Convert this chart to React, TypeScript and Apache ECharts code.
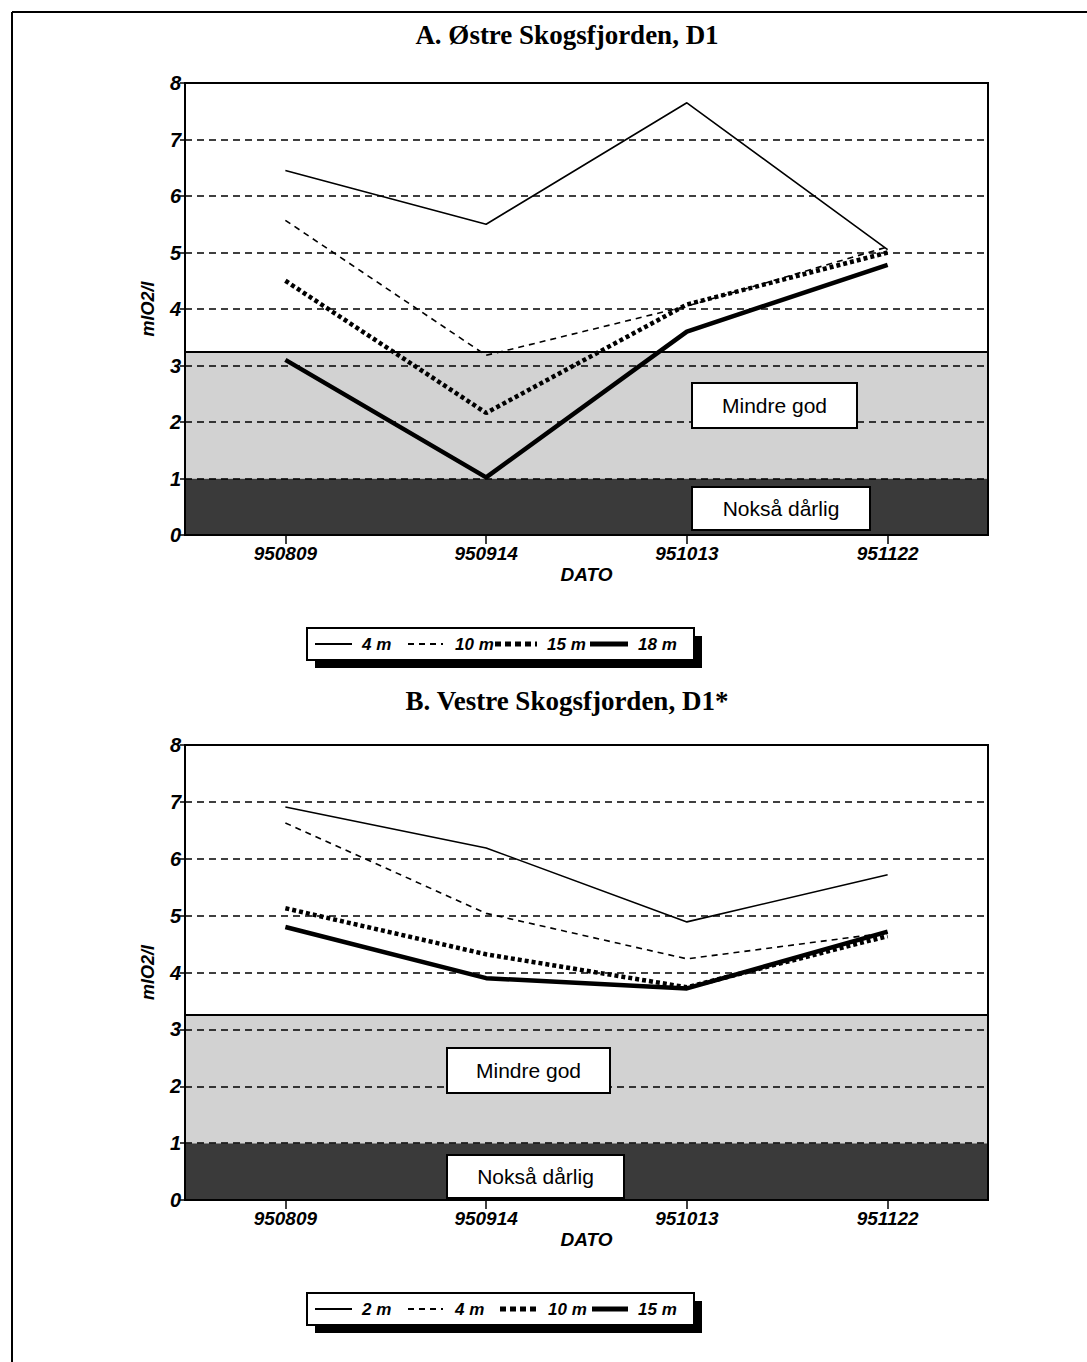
import React, { useEffect, useRef } from "react";
import * as echarts from "echarts";

// ---------- data ----------
const dates = ["950809", "950914", "951013", "951122"];
const yMin = 0;
const yMax = 8;
const yStep = 1;

const titleA = "A. Østre Skogsfjorden, D1";
const titleB = "B. Vestre Skogsfjorden, D1*";
const yName = "mlO2/l";
const xName = "DATO";

const depthsA = ["4 m", "10 m", "15 m", "18 m"];
const a4m = [6.45, 5.5, 7.65, 5.05];
const a10m = [5.57, 3.18, 4.05, 5.1];
const a15m = [4.5, 2.16, 4.08, 5.0];
const a18m = [3.1, 1.02, 3.6, 4.78];

const depthsB = ["2 m", "4 m", "10 m", "15 m"];
const b2m = [6.91, 6.19, 4.89, 5.72];
const b4m = [6.63, 5.04, 4.24, 4.7];
const b10m = [5.13, 4.32, 3.74, 4.64];
const b15m = [4.8, 3.9, 3.72, 4.72];

// condition classes (mlO2/l)
const classNames = ["Nokså dårlig", "Mindre god"];
const classLimits = [0, 1, 3.25];

// ---------- styles ----------
const SANS = "'Liberation Sans', Arial, Helvetica, sans-serif";
const SERIF = "'Liberation Serif', 'Times New Roman', serif";
const lineStyles = [
  { color: "#000", width: 1.6, type: "solid" },
  { color: "#000", width: 1.6, type: [6, 5] },
  { color: "#000", width: 4.5, type: [4, 3] },
  { color: "#000", width: 4.5, type: "solid" },
];
const legendDash = [undefined, [6, 5], [6, 4], undefined];
const legendWidth = [1.8, 1.8, 5, 5];
const bandColors = ["#3a3a3a", "#d2d2d2"];

const gridRects = [
  { left: 185, top: 83, width: 803, height: 452 },
  { left: 185, top: 745, width: 803, height: 455 },
];

function axisLabelStyle(size: number) {
  return {
    color: "#000",
    fontSize: size,
    fontStyle: "italic",
    fontWeight: "bold",
    fontFamily: SANS,
  };
}

function makeAxes(i: number) {
  const x = {
    type: "category",
    gridIndex: i,
    data: dates,
    boundaryGap: true,
    z: 2,
    axisLine: { show: true, lineStyle: { color: "#000", width: 2 } },
    axisTick: { show: true, alignWithLabel: true, length: 9, lineStyle: { color: "#000", width: 1.5 } },
    axisLabel: { ...axisLabelStyle(19), margin: 9 },
    splitLine: { show: false },
    name: xName,
    nameLocation: "middle",
    nameGap: 30,
    nameTextStyle: axisLabelStyle(19),
  };
  const y = {
    type: "value",
    gridIndex: i,
    min: yMin,
    max: yMax,
    interval: yStep,
    z: 2,
    axisLine: { show: true, lineStyle: { color: "#000", width: 2 } },
    axisTick: { show: true, length: 5, lineStyle: { color: "#000", width: 1.5 } },
    axisLabel: { ...axisLabelStyle(20), margin: 4 },
    splitLine: { show: true, lineStyle: { color: "#000", width: 1.6, type: [7, 5] } },
    name: yName,
    nameLocation: "middle",
    nameGap: 28,
    nameRotate: 90,
    nameTextStyle: axisLabelStyle(18),
  };
  return { x, y };
}

function bandSeries(i: number) {
  return {
    type: "line",
    name: "band" + i,
    xAxisIndex: i,
    yAxisIndex: i,
    data: [],
    z: 0,
    silent: true,
    markArea: {
      silent: true,
      z: 0,
      data: classNames.map((_, k) => [
        { yAxis: classLimits[k], itemStyle: { color: bandColors[k] } },
        { yAxis: classLimits[k + 1] },
      ]),
    },
    markLine: {
      silent: true,
      z: 3,
      symbol: "none",
      label: { show: false },
      lineStyle: { color: "#000", width: 1.8, type: "solid" },
      data: [{ yAxis: classLimits[2] }],
    },
  };
}

function dataSeries(i: number, names: string[], values: number[][]) {
  return names.map((n, k) => ({
    type: "line",
    name: n,
    xAxisIndex: i,
    yAxisIndex: i,
    data: values[k],
    symbol: "none",
    silent: true,
    z: 4,
    lineStyle: lineStyles[k],
  }));
}

function labelBox(x: number, y: number, w: number, h: number, text: string) {
  return {
    type: "group",
    x,
    y,
    z: 20,
    children: [
      {
        type: "rect",
        z: 20,
        shape: { x: 0, y: 0, width: w, height: h },
        style: { fill: "#fff", stroke: "#000", lineWidth: 2 },
      },
      {
        type: "text",
        z: 21,
        style: {
          x: w / 2,
          y: h / 2,
          text,
          align: "center",
          verticalAlign: "middle",
          fill: "#000",
          font: `21px ${SANS}`,
        },
      },
    ],
  };
}

function legendBox(y: number, names: string[], lineX: number[][], textX: number[]) {
  const x0 = 307;
  const w = 387;
  const h = 32;
  const cy = h / 2;
  const children: any[] = [
    { type: "rect", z: 20, shape: { x: 8, y: 8, width: w, height: h }, style: { fill: "#000" } },
    { type: "rect", z: 21, shape: { x: 0, y: 0, width: w, height: h }, style: { fill: "#fff", stroke: "#000", lineWidth: 2 } },
  ];
  names.forEach((n, k) => {
    children.push({
      type: "line",
      z: 22,
      shape: { x1: lineX[k][0] - x0, y1: cy, x2: lineX[k][1] - x0, y2: cy },
      style: { stroke: "#000", lineWidth: legendWidth[k], lineDash: legendDash[k] },
    });
    children.push({
      type: "text",
      z: 22,
      style: {
        x: textX[k] - x0,
        y: cy,
        text: n,
        align: "left",
        verticalAlign: "middle",
        fill: "#000",
        font: `italic bold 17px ${SANS}`,
      },
    });
  });
  return { type: "group", x: x0, y, z: 20, children };
}

export default function App() {
  const ref = useRef<HTMLDivElement>(null);
  useEffect(() => {
    if (!ref.current) return;
    const chart = echarts.init(ref.current, undefined, { renderer: "svg" });
    const axA = makeAxes(0);
    const axB = makeAxes(1);
    const option: any = {
      animation: false,
      backgroundColor: "#fff",
      title: [
        {
          text: titleA,
          left: 562,
          top: 16,
          textAlign: "center",
          textStyle: { fontFamily: SERIF, fontWeight: "bold", fontSize: 27, color: "#000" },
        },
        {
          text: titleB,
          left: 562,
          top: 682,
          textAlign: "center",
          textStyle: { fontFamily: SERIF, fontWeight: "bold", fontSize: 27, color: "#000" },
        },
      ],
      grid: gridRects.map((g) => ({
        ...g,
        show: true,
        z: 2,
        borderColor: "#000",
        borderWidth: 2,
        backgroundColor: "transparent",
        containLabel: false,
      })),
      xAxis: [axA.x, axB.x],
      yAxis: [axA.y, axB.y],
      series: [
        bandSeries(0),
        bandSeries(1),
        ...dataSeries(0, depthsA, [a4m, a10m, a15m, a18m]),
        ...dataSeries(1, depthsB, [b2m, b4m, b10m, b15m]),
      ],
      graphic: [
        { type: "line", shape: { x1: 12, y1: 12, x2: 1087, y2: 12 }, style: { stroke: "#000", lineWidth: 2 } },
        { type: "line", shape: { x1: 12, y1: 12, x2: 12, y2: 1362 }, style: { stroke: "#000", lineWidth: 2 } },
        labelBox(692, 383, 165, 45, classNames[1]),
        labelBox(692, 487, 178, 43, classNames[0]),
        labelBox(447, 1048, 163, 45, classNames[1]),
        labelBox(447, 1155, 177, 43, classNames[0]),
        legendBox(
          628,
          depthsA,
          [[315, 352], [408, 443], [495, 537], [590, 628]],
          [362, 455, 547, 638]
        ),
        legendBox(
          1293,
          depthsB,
          [[315, 352], [408, 443], [500, 537], [592, 628]],
          [362, 455, 548, 638]
        ),
      ],
    };
    chart.setOption(option);
    return () => chart.dispose();
  }, []);
  return (
    <div
      ref={ref}
      style={{ position: "absolute", left: 0, top: 0, width: 1087, height: 1362, background: "#fff" }}
    />
  );
}
